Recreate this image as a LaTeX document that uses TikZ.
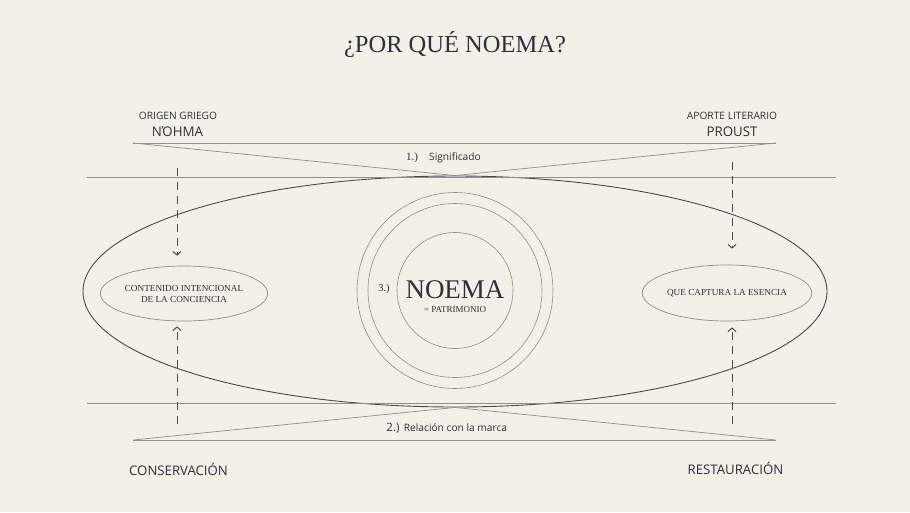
\documentclass[tikz,border=0pt]{standalone}
\usepackage{fontspec}
\setmainfont{Liberation Serif}
\setsansfont{Open Sans}
\usetikzlibrary{shapes.geometric,arrows.meta}
\definecolor{bg}{HTML}{F4F0E8}
\definecolor{ink}{HTML}{2B303B}
\definecolor{ln}{HTML}{8E8E8E}
\definecolor{dk}{HTML}{4A4A4A}
\tikzset{
  thinln/.style={draw=ln, line width=0.7pt},
  bigell/.style={ellipse, draw=dk, line width=0.9pt, inner sep=0pt},
  ring/.style={circle, draw=ln, line width=0.6pt, inner sep=0pt},
  smallell/.style={ellipse, draw=ln, line width=0.7pt, inner sep=0pt, text=ink, align=center, font=\fontsize{9.2}{11}\selectfont},
  dasharr/.style={draw=dk, line width=0.8pt, dash pattern=on 8pt off 6pt, -{Straight Barb[length=3.5pt,width=8pt,line width=1pt]}},
  sanslbl/.style={text=ink, font=\sffamily\fontsize{10.2}{12}\selectfont, inner sep=0pt},
  biglbl/.style={text=ink, font=\sffamily\fontsize{13.2}{15}\selectfont, inner sep=0pt},
}
\begin{document}
\begin{tikzpicture}[x=1pt,y=-1pt]
\fill[bg] (0,0) rectangle (910,512);
\useasboundingbox (0,0) rectangle (910,512);

% title
\node[text=ink, font=\fontsize{24.5}{28}\selectfont] (title) at (455,45) {¿POR QUÉ NOEMA?};

% headers
\node[sanslbl] (origen) at (178,116) {ORIGEN GRIEGO};
\node[sanslbl, font=\sffamily\fontsize{13.3}{15}\selectfont] (nohma) at (177.5,132) {ΝΌΗΜΑ};
\node[sanslbl] (aporte) at (732,116) {APORTE LITERARIO};
\node[sanslbl, font=\sffamily\fontsize{13.3}{15}\selectfont] (proust) at (732,132) {PROUST};

% big ellipse and rings
\node[bigell, minimum width=744pt, minimum height=231pt] (big) at (455,291.5) {};
\node[ring, minimum size=196pt] (r1) at (455,290.5) {};
\node[ring, minimum size=174pt] (r2) at (455,290.5) {};
\node[ring, minimum size=116pt] (r3) at (455,290.5) {};
\node[text=ink, font=\fontsize{27}{30}\selectfont, inner sep=0pt] (noema) at (455,290) {NOEMA};
\node[text=ink, font=\fontsize{9}{10}\selectfont, inner sep=0pt] (patr) at (455,310) {= PATRIMONIO};
\node[text=ink, font=\fontsize{10.5}{12}\selectfont, inner sep=0pt] (n3) at (384,289) {3.)};

% long horizontal lines
\coordinate (h1a) at (87,177);
\coordinate (h1b) at (836,177);
\coordinate (h2a) at (87,403.5);
\coordinate (h2b) at (836,403.5);
\draw[thinln] (h1a) -- (h1b);
\draw[thinln] (h2a) -- (h2b);

% top triangle
\coordinate (tl) at (133,143);
\coordinate (tr) at (776,143);
\draw[thinln] (tl) -- (tr);
\draw[thinln] (tl) -- (big.north) -- (tr);

% bottom triangle
\coordinate (bl) at (133,440);
\coordinate (br) at (776,440);
\draw[thinln] (bl) -- (br);
\draw[thinln] (bl) -- (big.south) -- (br);

% labels on triangles
\node[text=ink, font=\fontsize{11}{12}\selectfont, inner sep=0pt] (n1) at (412,157.5) {1.)};
\node[sanslbl] (sig) at (455,157.5) {Significado};
\node[sanslbl, font=\sffamily\fontsize{11.5}{13}\selectfont] (n2) at (393,428) {2.)};
\node[sanslbl] (rel) at (455.5,428) {Relación con la marca};

% small ellipses
\node[smallell, minimum width=156pt, minimum height=55pt] (left) at (184,293.5) {CONTENIDO INTENCIONAL\\DE LA CONCIENCIA};
\node[smallell, minimum width=154pt, minimum height=56pt] (right) at (727,293) {QUE CAPTURA LA ESENCIA};

% dashed arrows
\coordinate (lt) at (177,168);
\coordinate (lb) at (177,424);
\coordinate (rt) at (732,162);
\coordinate (rb) at (732,424);
\draw[dasharr, shorten >=10pt] (lt) -- (lt |- left.north);
\draw[dasharr, shorten >=5pt] (lb) -- (lb |- left.south);
\draw[dasharr, shorten >=16pt] (rt) -- (rt |- right.north);
\draw[dasharr, shorten >=6pt] (rb) -- (rb |- right.south);

% bottom labels
\node[biglbl] (cons) at (178.5,469) {CONSERVACIÓN};
\node[biglbl] (rest) at (735.5,468) {RESTAURACIÓN};
\end{tikzpicture}
\end{document}
